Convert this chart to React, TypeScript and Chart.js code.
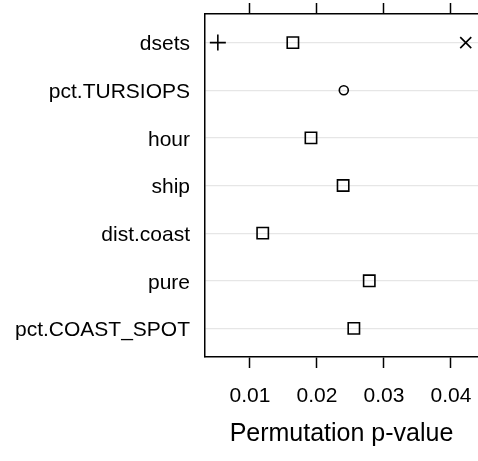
import React, { useEffect, useRef } from "react";
import { Chart, registerables } from "chart.js";

Chart.register(...registerables);

const categories = ["dsets", "pct.TURSIOPS", "hour", "ship", "dist.coast", "pure", "pct.COAST_SPOT"];
const mainValues = [0.0164, 0.024, 0.0191, 0.0239, 0.0119, 0.0278, 0.0255];
const mainSymbols = ["rect", "circle", "rect", "rect", "rect", "rect", "rect"];
const plusValues = [0.0052];
const plusCategories = ["dsets"];
const crossValues = [0.0422];
const crossCategories = ["dsets"];
const xTicks = [0.01, 0.02, 0.03, 0.04];
const xMin = 0.003284;
const xMax = 0.04403;

const FONT = "'Liberation Sans', Arial, Helvetica, sans-serif";

export default function App() {
  const ref = useRef<HTMLCanvasElement | null>(null);
  useEffect(() => {
    if (!ref.current) return;
    const zeroPad = (s: any) => {
      s.paddingLeft = 0;
      s.paddingRight = 0;
      s.paddingTop = 0;
      s.paddingBottom = 0;
    };
    const chart = new Chart(ref.current, {
      type: "scatter",
      data: {
        datasets: [
          {
            data: categories.map((c, i) => ({ x: mainValues[i], y: i })),
            pointStyle: mainSymbols as any,
            pointRadius: mainSymbols.map((s) => (s === "circle" ? 4.5 : 8)),
            borderColor: "#000",
            backgroundColor: "rgba(0,0,0,0)",
            pointBorderWidth: 1.6,
          },
          {
            data: plusValues.map((v, i) => ({ x: v, y: categories.indexOf(plusCategories[i]) })),
            pointStyle: "cross",
            pointRadius: 8,
            borderColor: "#000",
            backgroundColor: "rgba(0,0,0,0)",
            pointBorderWidth: 1.6,
          },
          {
            data: crossValues.map((v, i) => ({ x: v, y: categories.indexOf(crossCategories[i]) })),
            pointStyle: "crossRot",
            pointRadius: 7.8,
            borderColor: "#000",
            backgroundColor: "rgba(0,0,0,0)",
            pointBorderWidth: 1.6,
          },
        ],
      },
      options: {
        responsive: false,
        animation: false,
        layout: { padding: 0, autoPadding: false },
        plugins: { legend: { display: false }, tooltip: { enabled: false } },
        scales: {
          x: {
            type: "linear",
            position: "bottom",
            min: xMin,
            max: xMax,
            afterBuildTicks: (s: any) => {
              s.ticks = xTicks.map((v) => ({ value: v }));
            },
            afterFit: (s: any) => {
              s.height = 104;
              zeroPad(s);
            },
            grid: {
              drawOnChartArea: false,
              drawTicks: true,
              tickLength: 11,
              tickColor: "#000",
              tickWidth: 1.5,
            },
            border: { display: true, color: "#000", width: 1.5 },
            ticks: {
              padding: 16,
              color: "#000",
              font: { family: FONT, size: 21 },
              maxRotation: 0,
              callback: (v: any) => String(Number(v).toFixed(2)),
            },
            title: {
              display: true,
              text: "Permutation p-value",
              color: "#000",
              font: { family: FONT, size: 25 },
              padding: { top: 0, bottom: 12 },
            },
          },
          x2: {
            type: "linear",
            position: "top",
            min: xMin,
            max: xMax,
            afterBuildTicks: (s: any) => {
              s.ticks = xTicks.map((v) => ({ value: v }));
            },
            afterFit: (s: any) => {
              s.height = 14;
              zeroPad(s);
            },
            grid: {
              drawOnChartArea: false,
              drawTicks: true,
              tickLength: 11,
              tickColor: "#000",
              tickWidth: 1.5,
            },
            border: { display: true, color: "#000", width: 1.5 },
            ticks: { display: false },
          },
          y: {
            type: "linear",
            position: "left",
            reverse: true,
            min: -0.6,
            max: categories.length - 0.4,
            afterBuildTicks: (s: any) => {
              s.ticks = categories.map((c, i) => ({ value: i }));
            },
            afterFit: (s: any) => {
              s.width = 205;
              zeroPad(s);
            },
            grid: {
              color: "#e6e6e6",
              lineWidth: 1.2,
              drawTicks: false,
            },
            border: { display: true, color: "#000", width: 1.5 },
            ticks: {
              padding: 15,
              labelOffset: 2,
              color: "#000",
              font: { family: FONT, size: 21 },
              callback: (v: any) => categories[Math.round(Number(v))] ?? "",
            },
          },
        },
      },
    });
    return () => chart.destroy();
  }, []);
  return (
    <div style={{ position: "absolute", left: 0, top: 0, width: 478, height: 461, overflow: "hidden", background: "#fff" }}>
      <canvas ref={ref} width={478} height={461} style={{ display: "block" }} />
    </div>
  );
}
